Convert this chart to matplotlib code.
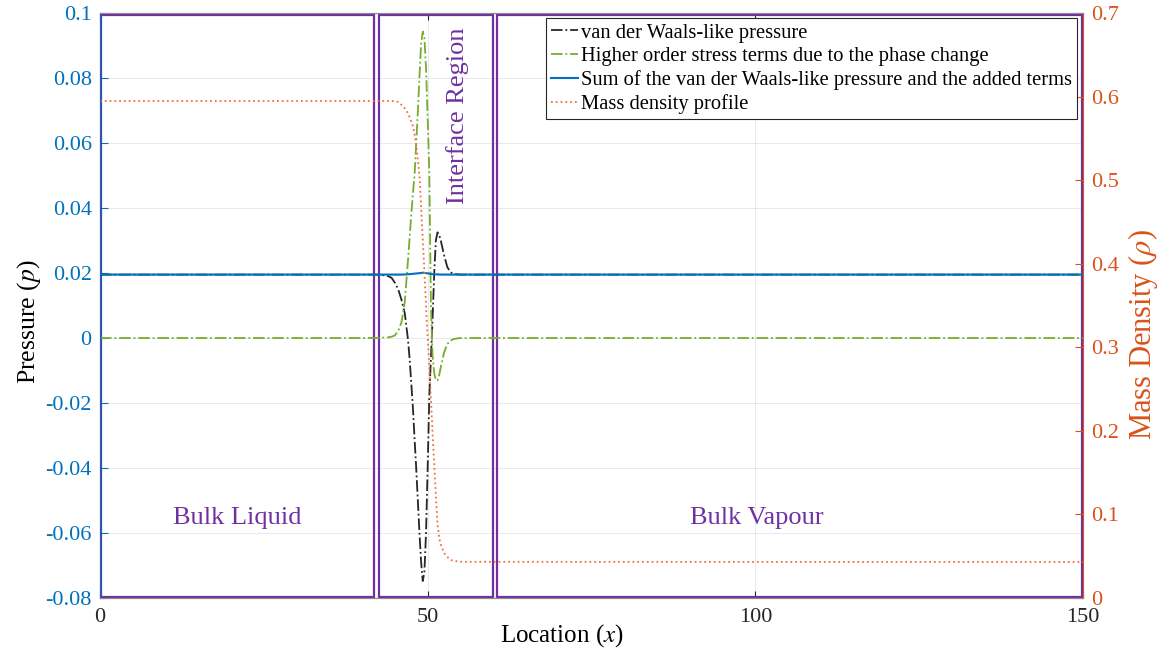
import matplotlib
matplotlib.use("Agg")
import matplotlib.pyplot as plt
from matplotlib.patches import Rectangle

plt.rcParams["font.family"] = ["Liberation Serif", "DejaVu Serif"]
plt.rcParams["mathtext.fontset"] = "stix"
plt.rcParams["axes.unicode_minus"] = False

# ---- data -------------------------------------------------------------
# van der Waals-like pressure (black) and higher-order stress terms (green)
x_int = [0, 42, 43, 44, 44.5, 45, 45.5, 46, 46.5, 47, 47.25, 47.5, 47.75,
         48, 48.25, 48.5, 48.75, 49, 49.25, 49.5, 49.75, 50, 50.25, 50.5,
         50.75, 51, 51.25, 51.5, 51.75, 52, 52.5, 53, 53.5, 54, 55, 56, 150]
p_vdw = [0.0195, 0.0195, 0.0194, 0.0190, 0.0185, 0.0170, 0.0150, 0.0118,
         0.0077, -0.0005, -0.0065, -0.0140, -0.0215, -0.0310, -0.0400,
         -0.0500, -0.0600, -0.0690, -0.0748, -0.0720, -0.0600, -0.0400,
         -0.0180, -0.0060, 0.0060, 0.0200, 0.0300, 0.0325, 0.0318, 0.0300,
         0.0255, 0.0218, 0.0202, 0.0197, 0.0195, 0.0195, 0.0195]
p_high = [0.0, 0.0, 0.0001, 0.0002, 0.0004, 0.0008, 0.0022, 0.0048, 0.0110,
          0.0240, 0.0310, 0.0380, 0.0445, 0.0500, 0.0600, 0.0695, 0.0805,
          0.0905, 0.0943, 0.0925, 0.0830, 0.0677, 0.0508, 0.0098, -0.0056,
          -0.0108, -0.0130, -0.0130, -0.0115, -0.0090, -0.0045, -0.0018,
          -0.0008, -0.0003, 0.0, 0.0, 0.0]

# sum of both contributions (blue)
x_sum = [0, 46, 47, 48, 48.5, 49, 49.3, 49.6, 50, 50.5, 51, 52, 150]
p_sum = [0.0195, 0.0195, 0.0196, 0.0198, 0.0199, 0.0200, 0.0201, 0.0200,
         0.0199, 0.0197, 0.0196, 0.0195, 0.0195]

# mass density profile (orange, right axis)
x_rho = [0, 44, 45, 45.5, 46, 46.5, 47, 47.5, 47.8, 48.1, 48.3, 48.6, 48.8,
         49.1, 49.5, 49.85, 50.25, 50.7, 51.1, 51.5, 51.8, 52.1, 52.6, 53.2,
         53.7, 54.2, 55, 150]
rho = [0.5947, 0.5947, 0.5945, 0.5935, 0.590, 0.586, 0.580, 0.570, 0.5636,
       0.550, 0.538, 0.518, 0.500, 0.452, 0.392, 0.333, 0.278, 0.205, 0.145,
       0.088, 0.070, 0.0614, 0.053, 0.0475, 0.045, 0.0443, 0.0433, 0.0431]

# phase regions along x
region_names = ["Bulk Liquid", "Interface Region", "Bulk Vapour"]
region_edges = [(0.2, 41.85), (42.55, 60.0), (60.55, 149.8)]
region_p = (-0.0797, 0.0993)

x_ticks = [0, 50, 100, 150]
p_ticks = [-0.08, -0.06, -0.04, -0.02, 0, 0.02, 0.04, 0.06, 0.08, 0.1]
p_tick_labels = ["-0.08", "-0.06", "-0.04", "-0.02", "0", "0.02", "0.04",
                 "0.06", "0.08", "0.1"]
rho_ticks = [0, 0.1, 0.2, 0.3, 0.4, 0.5, 0.6, 0.7]
rho_tick_labels = ["0", "0.1", "0.2", "0.3", "0.4", "0.5", "0.6", "0.7"]

# ---- styles -----------------------------------------------------------
BLUE = "#0072BD"
ORANGE = "#D95319"
ORANGE_LINE = "#F2703C"
GREEN = "#77AC30"
DARK = "#262626"
PURPLE = "#7030A0"

fig = plt.figure(figsize=(11.66, 6.53), dpi=100)
ax = fig.add_axes([100 / 1166, 55 / 653, 983 / 1166, 585 / 653])
ax.set_xlim(0, 150)
ax.set_ylim(-0.08, 0.1)
ax.set_axisbelow(True)
ax.grid(True, color=DARK, alpha=0.1, lw=0.7)

# region boxes
for (x0, x1) in region_edges:
    ax.add_patch(Rectangle((x0, region_p[0]), x1 - x0, region_p[1] - region_p[0],
                           fill=False, edgecolor=PURPLE, lw=1.6, zorder=1.5))

ax.text(21, -0.0555, region_names[0], color=PURPLE, fontsize=19,
        ha="center", va="center")
ax.text(54.6, 0.0685, region_names[1], color=PURPLE, fontsize=19,
        rotation=90, ha="center", va="center")
ax.text(100.3, -0.0555, region_names[2], color=PURPLE, fontsize=19,
        ha="center", va="center")

l1, = ax.plot(x_int, p_vdw, ls="-.", color=DARK, lw=1.3, zorder=3,
              label="van der Waals-like pressure")
l2, = ax.plot(x_int, p_high, ls="-.", color=GREEN, lw=1.3, zorder=3,
              label="Higher order stress terms due to the phase change")
l3, = ax.plot(x_sum, p_sum, ls="-", color=BLUE, lw=1.5, zorder=3,
              label="Sum of the van der Waals-like pressure and the added terms")

ax2 = ax.twinx()
ax2.set_ylim(0, 0.7)
l4, = ax2.plot(x_rho, rho, ls=":", color=ORANGE_LINE, lw=1.3,
               label="Mass density profile")

# axes styling
ax.set_xticks(x_ticks)
ax.set_xticklabels([str(t) for t in x_ticks])
ax.set_yticks(p_ticks)
ax.set_yticklabels(p_tick_labels)
ax2.set_yticks(rho_ticks)
ax2.set_yticklabels(rho_tick_labels)

ax.tick_params(axis="x", direction="in", length=5, top=True, colors=DARK,
               labelsize=16, pad=7, width=0.8)
ax.tick_params(axis="y", direction="in", length=6, colors=BLUE,
               labelsize=16, pad=6, width=0.8)
ax2.tick_params(axis="y", direction="in", length=6, colors=ORANGE,
                labelsize=16, pad=6, width=0.8)

for a in (ax, ax2):
    a.spines["top"].set_color("#8c8c8c")
    a.spines["bottom"].set_color("#8c8c8c")
    a.spines["top"].set_linewidth(0.8)
    a.spines["bottom"].set_linewidth(0.8)
ax.spines["left"].set_color(BLUE)
ax.spines["right"].set_visible(False)
ax2.spines["left"].set_color(BLUE)
ax2.spines["right"].set_color(ORANGE)

ax.set_xlabel("Location ($x$)", fontsize=18, color="black")
ax.xaxis.set_label_coords(0.47, -0.042)
ax.set_ylabel("Pressure ($p$)", fontsize=18.5, color="black")
ax.yaxis.set_label_coords(-0.058, 0.472)
ax2.set_ylabel(r"Mass Density ($\rho$)", fontsize=22, color=ORANGE,
               rotation=90)
ax2.yaxis.set_label_coords(1.044, 0.451)

leg = ax2.legend(handles=[l1, l2, l3, l4], loc="upper right",
                 bbox_to_anchor=(0.9939, 0.9915), borderaxespad=0,
                 fontsize=14.8, frameon=True, fancybox=False,
                 edgecolor=DARK, framealpha=1, handlelength=1.3,
                 handletextpad=0.15, labelspacing=0.2, borderpad=0.25)
leg.get_frame().set_linewidth(0.8)

fig.savefig("out.png", dpi=100)
